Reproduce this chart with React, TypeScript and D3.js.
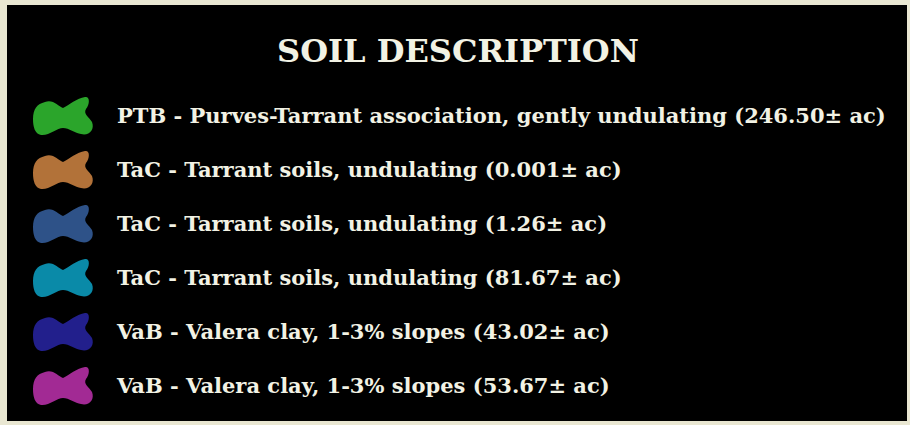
import React from "react";
import * as d3 from "d3";

const W = 910;
const H = 425;

const title = "SOIL DESCRIPTION";
const labels = [
  "PTB - Purves-Tarrant association, gently undulating (246.50± ac)",
  "TaC - Tarrant soils, undulating (0.001± ac)",
  "TaC - Tarrant soils, undulating (1.26± ac)",
  "TaC - Tarrant soils, undulating (81.67± ac)",
  "VaB - Valera clay, 1-3% slopes (43.02± ac)",
  "VaB - Valera clay, 1-3% slopes (53.67± ac)",
];
const colors = ["#2ba52b", "#b27239", "#2e5288", "#0a8aa8", "#221f8c", "#a22a94"];

const BLOB =
  "M 12,5 C 20,2 25,9 30,11 C 36,8 44,1 52,0 C 57,-1 57,7 53,12 C 50,17 56,20 59,25 C 62,33 56,39 48,37 C 42,36 36,31 30,31 C 24,31 16,39 8,38 C 2,37 0,30 0,22 C 0,12 4,7 12,5 Z";

export default function App() {
  const y = d3
    .scalePoint<number>()
    .domain(d3.range(labels.length))
    .range([116, 386]);
  const font = "'DejaVu Serif', serif";
  return (
    <svg
      width={W}
      height={H}
      style={{ position: "absolute", left: 0, top: 0, display: "block" }}
    >
      <rect x={0} y={0} width={W} height={H} fill="#e9e7d2" />
      <rect x={7} y={5} width={900} height={416} fill="#000" />
      <text
        x={458}
        y={62}
        textAnchor="middle"
        fill="#f2f2e4"
        fontFamily={font}
        fontWeight="bold"
        fontSize={32}
      >
        {title}
      </text>
      {labels.map((lab, i) => (
        <g key={i} transform={`translate(0,${y(i)})`}>
          <path d={BLOB} transform="translate(33,-19)" fill={colors[i]} />
          <text
            x={117}
            y={7}
            fill="#f2f2e4"
            fontFamily={font}
            fontWeight="bold"
            fontSize={21}
          >
            {lab}
          </text>
        </g>
      ))}
    </svg>
  );
}
